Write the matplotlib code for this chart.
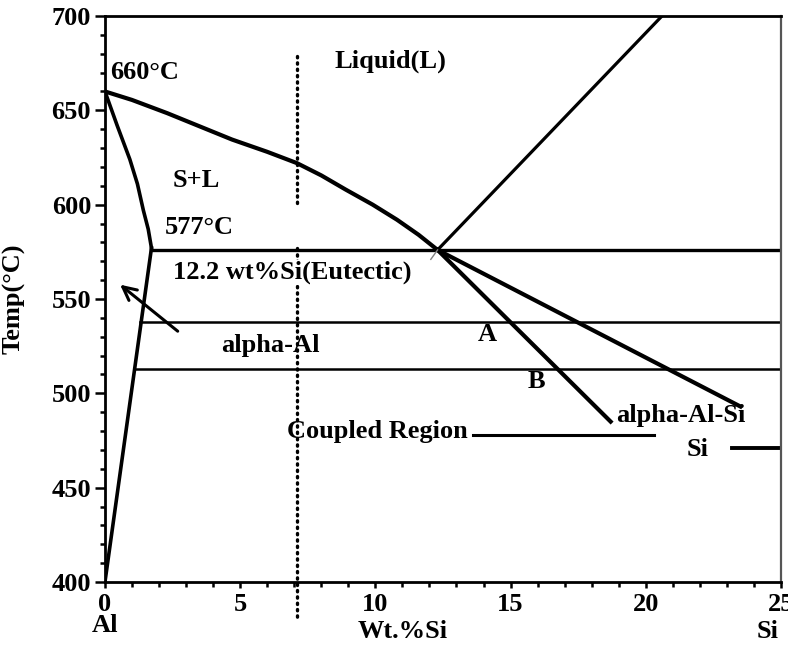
import matplotlib.pyplot as plt
from matplotlib.ticker import MultipleLocator

plt.rcParams["font.family"] = ["Liberation Serif", "DejaVu Serif"]
plt.rcParams["font.weight"] = "bold"

# phase boundaries (wt.% Si, temperature in degC)
liquidus_al_x = [0, 1.0, 2.3, 3.5, 4.7, 6.0, 7.1, 8.0, 8.9, 9.9, 10.8, 11.6, 12.3]
liquidus_al_t = [660, 655.5, 648.5, 641.5, 634.5, 628, 622, 615.5, 608, 600, 592, 584, 576]
liquidus_si_x = [12.3, 20.6]
liquidus_si_t = [576, 700]
solidus_x = [0, 0.45, 0.92, 1.2, 1.42, 1.6, 1.72]
solidus_t = [660, 642, 624, 611, 597, 587, 577]
solvus_x = [1.72, 0]
solvus_t = [577, 400]
eutectic_x = [1.72, 25]
eutectic_t = [576, 576]
line_538_x = [1.3, 25]
line_538_t = [538, 538]
line_513_x = [1.08, 25]
line_513_t = [513, 513]
line_a_x = [12.3, 18.7]
line_a_t = [576, 485]
line_b_x = [12.3, 23.5]
line_b_t = [576, 493]
coupled_x = [13.6, 20.3]
coupled_t = [478, 478]
si_line_x = [23.2, 25]
si_line_t = [471, 471]
faint_x = [12.05, 12.3]
faint_t = [571, 576]
dotted_upper_t = [679, 600]
dotted_lower_t = [577, 380]
dotted_x = 7.1

fig = plt.figure(figsize=(7.88, 6.47), dpi=100)
ax = fig.add_axes([0.1332, 0.1005, 0.8579, 0.8748])

ax.plot(liquidus_al_x, liquidus_al_t, color="black", lw=3.0, solid_capstyle="round")
ax.plot(liquidus_si_x, liquidus_si_t, color="black", lw=2.3)
ax.plot(solidus_x, solidus_t, color="black", lw=2.6)
ax.plot(solvus_x, solvus_t, color="black", lw=2.6)
ax.plot(eutectic_x, eutectic_t, color="black", lw=2.4)
ax.plot(line_538_x, line_538_t, color="black", lw=1.8)
ax.plot(line_513_x, line_513_t, color="black", lw=1.8)
ax.plot(line_a_x, line_a_t, color="black", lw=3.0)
ax.plot(line_b_x, line_b_t, color="black", lw=3.0)
ax.plot(coupled_x, coupled_t, color="black", lw=2.2)
ax.plot(si_line_x, si_line_t, color="black", lw=2.8)
ax.plot(faint_x, faint_t, color="gray", lw=1.0)

for seg in (dotted_upper_t, dotted_lower_t):
    ax.plot([dotted_x, dotted_x], seg, color="black", lw=2.4,
            linestyle=(0, (0.4, 1.5)), dash_capstyle="round", clip_on=False)

ax.annotate("", xy=(0.48, 558.5), xytext=(2.77, 532),
            arrowprops=dict(arrowstyle="->", color="black", lw=2.2,
                            mutation_scale=24))

fs = 19
ax.text(0.2, 670, "660°C", fontsize=fs, va="center", ha="left")
ax.text(2.5, 613, "S+L", fontsize=fs, va="center", ha="left")
ax.text(2.2, 588, "577°C", fontsize=fs, va="center", ha="left")
ax.text(2.5, 564, "12.2 wt%Si(Eutectic)", fontsize=fs, va="center", ha="left",
        bbox=dict(facecolor="white", edgecolor="none", pad=0.5))
ax.text(8.5, 676, "Liquid(L)", fontsize=fs, va="center", ha="left")
ax.text(4.3, 525.5, "alpha-Al", fontsize=fs, va="center", ha="left")
ax.text(14.15, 531, "A", fontsize=fs, va="center", ha="center")
ax.text(15.97, 506, "B", fontsize=fs, va="center", ha="center")
ax.text(18.9, 488.5, "alpha-Al-Si", fontsize=fs, va="center", ha="left")
ax.text(21.5, 470, "Si", fontsize=fs, va="center", ha="left")
ax.text(6.75, 479.5, "Coupled Region", fontsize=fs, va="center", ha="left")

ax.set_xlim(0, 25)
ax.set_ylim(400, 700)
ax.xaxis.set_major_locator(MultipleLocator(5))
ax.xaxis.set_minor_locator(MultipleLocator(1))
ax.yaxis.set_major_locator(MultipleLocator(50))
ax.yaxis.set_minor_locator(MultipleLocator(10))
ax.tick_params(axis="both", which="major", direction="out", length=7, width=1.8,
               labelsize=fs, pad=3)
ax.tick_params(axis="both", which="minor", direction="out", length=3.5, width=1.8)
ax.tick_params(axis="x", which="major", length=4, pad=4)
for lbl in ax.get_xticklabels() + ax.get_yticklabels():
    lbl.set_fontweight("bold")

for side in ("left", "bottom", "top"):
    ax.spines[side].set_linewidth(2.0)
ax.spines["right"].set_linewidth(1.6)
ax.spines["right"].set_color("#555555")

ax.set_ylabel("Temp(°C)", fontsize=fs, fontweight="bold")
ax.yaxis.set_label_coords(-0.118, 0.5)

xt = ax.get_xaxis_transform()
ax.text(0, -0.077, "Al", transform=xt, fontsize=fs, ha="center", va="center")
ax.text(11.0, -0.088, "Wt.%Si", transform=xt, fontsize=fs, ha="center", va="center")
ax.text(24.5, -0.088, "Si", transform=xt, fontsize=fs, ha="center", va="center")

fig.savefig("out.png", dpi=100)
